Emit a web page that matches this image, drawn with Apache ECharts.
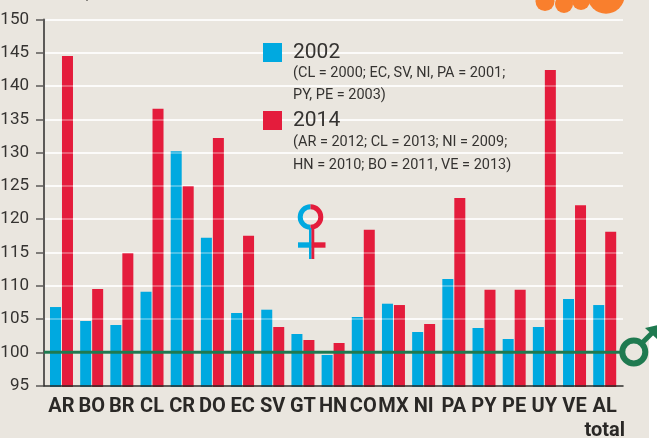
<!DOCTYPE html>
<html>
<head>
<meta charset="utf-8">
<script src="https://cdn.jsdelivr.net/npm/echarts@6/dist/echarts.min.js"></script>
<style>
html,body{margin:0;padding:0;width:657px;height:438px;overflow:hidden;background:linear-gradient(to right,#EAE6DF 649px,#ffffff 649px);}
#c{width:657px;height:438px;}
</style>
</head>
<body>
<div id="c"></div>
<script>
const FONT = "Roboto,'Liberation Sans',sans-serif";
const categories = ['AR','BO','BR','CL','CR','DO','EC','SV','GT','HN','CO','MX','NI','PA','PY','PE','UY','VE','AL\ntotal'];
const values2002 = [106.8,104.7,104.1,109.1,130.2,117.2,105.9,106.4,102.75,99.6,105.3,107.3,103.05,111,103.65,102,103.8,108,107.1];
const values2014 = [144.5,109.5,114.9,136.6,125,132.2,117.5,103.8,101.85,101.4,118.4,107.1,104.25,123.2,109.4,109.4,142.4,122.1,118.1];
const gridTicks = [105,110,115,120,125,130,135,140,145,150];
const parityValue = 100;
const notes2002 = ['(CL = 2000; EC, SV, NI, PA = 2001;','PY, PE = 2003)'];
const notes2014 = ['(AR = 2012; CL = 2013; NI = 2009;','HN = 2010; BO = 2011, VE = 2013)'];

const BLUE = '#00A9E0', RED = '#E41C3C', GREEN = '#1F7A50', ORANGE = '#F97F2D', INK = '#353331';

function note(text, y){
  return {type:'text', x:293, y:y-9, scaleX:0.934, z:5, style:{text:text, fill:INK, font:"15.5px "+FONT}};
}
const chart = echarts.init(document.getElementById('c'), null, {renderer:'canvas'});
chart.setOption({
  animation:false,
  backgroundColor:'transparent',
  textStyle:{fontFamily:FONT},
  legend:{
    show:true, orient:'vertical', left:263, top:42, itemWidth:19, itemHeight:19, itemGap:47,
    icon:'rect', selectedMode:false, padding:0,
    data:['2002','2014'],
    textStyle:{fontFamily:FONT, fontSize:21, color:INK, padding:[0,0,2,6]}
  },
  grid:[
    {left:44, top:19.5, width:579, height:366.1, outerBoundsMode:'none'},
    {left:46.4, top:19.5, width:573.4, height:367.4, outerBoundsMode:'none'}
  ],
  xAxis:[
    {type:'value', gridIndex:0, min:0, max:1, z:4, splitLine:{show:false}, axisTick:{show:false}, axisLabel:{show:false},
     axisLine:{show:true, onZero:false, lineStyle:{color:'#2a2826', width:1.5}}},
    {type:'category', gridIndex:1, data:categories, axisLine:{show:false}, axisTick:{show:false},
     axisLabel:{interval:0, margin:8, color:'#2a2826', fontFamily:FONT, fontWeight:'bold', fontSize:20, lineHeight:24, align:'center', verticalAlign:'top'}}
  ],
  yAxis:[
    {type:'value', gridIndex:0, min:95, max:150, interval:5,
     axisLine:{show:true, lineStyle:{color:'#5c5a58', width:2}},
     axisTick:{show:true, length:8, lineStyle:{color:'#5c5a58', width:1.5}},
     axisLabel:{margin:15, color:INK, fontFamily:FONT, fontSize:17},
     splitLine:{show:true, lineStyle:{color:'#ffffff', width:1.5, type:'solid'}}},
    {type:'value', gridIndex:1, min:94.8, max:150, show:false, splitLine:{show:false}}
  ],
  series:[
    {name:'2002', type:'bar', xAxisIndex:1, yAxisIndex:1, data:values2002, barWidth:11, barGap:'9%', z:2,
     itemStyle:{color:BLUE},
     markLine:{silent:true, symbol:'none', label:{show:false}, z:3,
       lineStyle:{color:'rgba(255,255,255,0.4)', width:1.5, type:'solid'},
       data:gridTicks.map(v=>({yAxis:v}))}},
    {name:'2014', type:'bar', xAxisIndex:1, yAxisIndex:1, data:values2014, barWidth:11, barGap:'9%', z:2,
     itemStyle:{color:RED}},
    {name:'parity', type:'line', xAxisIndex:0, yAxisIndex:0, data:[[0,parityValue],[1,parityValue]], symbol:'none', z:4,
     lineStyle:{color:GREEN, width:3}, tooltip:{show:false}}
  ],
  graphic:[
    note(notes2002[0],74), note(notes2002[1],96),
    note(notes2014[0],143), note(notes2014[1],166),
    {type:'arc', z:6, shape:{cx:310.5,cy:217,r:10.3,startAngle:Math.PI/2,endAngle:-Math.PI/2}, style:{fill:'none',stroke:BLUE,lineWidth:5}},
    {type:'arc', z:6, shape:{cx:310.5,cy:217,r:10.3,startAngle:-Math.PI/2,endAngle:Math.PI/2}, style:{fill:'none',stroke:RED,lineWidth:5}},
    {type:'rect', z:6, shape:{x:298,y:242.3,width:13.5,height:5.4}, style:{fill:BLUE}},
    {type:'rect', z:6, shape:{x:311.5,y:242.3,width:14,height:5.4}, style:{fill:RED}},
    {type:'rect', z:6, shape:{x:309,y:228,width:2.7,height:31}, style:{fill:BLUE}},
    {type:'rect', z:6, shape:{x:311.5,y:228,width:2.8,height:31}, style:{fill:RED}},
    {type:'circle', z:6, shape:{cx:633.8,cy:352,r:11.5}, style:{fill:'#EAE6DF',stroke:GREEN,lineWidth:6}},
    {type:'line', z:6, shape:{x1:641,y1:344,x2:652,y2:333}, style:{stroke:GREEN,lineWidth:5}},
    {type:'polygon', z:6, shape:{points:[[645,328],[658,325],[658,340]]}, style:{fill:GREEN}},
    {type:'circle', z:6, shape:{cx:545,cy:1.5,r:9.5}, style:{fill:ORANGE}},
    {type:'circle', z:6, shape:{cx:564,cy:4,r:9}, style:{fill:ORANGE}},
    {type:'circle', z:6, shape:{cx:581,cy:1,r:9}, style:{fill:ORANGE}},
    {type:'circle', z:6, shape:{cx:606,cy:-5,r:18.7}, style:{fill:ORANGE}},
    {type:'rect', z:6, shape:{x:86,y:0,width:2,height:1}, style:{fill:'#8a8782'}}
  ]
});
</script>
</body>
</html>
